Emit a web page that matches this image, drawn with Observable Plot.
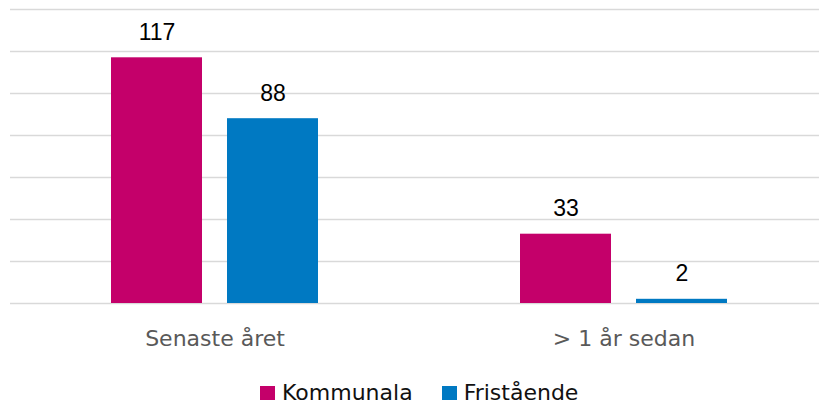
<!DOCTYPE html>
<html>
<head>
<meta charset="utf-8">
<script src="https://cdn.jsdelivr.net/npm/d3@7"></script>
<script src="https://cdn.jsdelivr.net/npm/@observablehq/plot@0.6"></script>
<style>
  html, body { margin: 0; padding: 0; background: #fff; overflow: hidden; width: 819px; height: 405px; }
  #wrap { position: relative; width: 819px; height: 405px; }
  #legend { position: absolute; left: 260px; top: 382px; display: flex; align-items: center;
            font-family: "DejaVu Sans", sans-serif; font-size: 22px; line-height: 22px; color: #111; }
  .item { display: flex; align-items: center; }
  .sw { width: 15px; height: 14px; margin-right: 7px; }
</style>
</head>
<body>
<div id="wrap"></div>
<script>
const groups = ["Senaste året", "> 1 år sedan"];
const series = ["Kommunala", "Fristående"];
const kommunala = [117, 33];
const fristaende = [88, 2];
const colors = ["#c4006a", "#0079c2"];
const yTicks = [0, 20, 40, 60, 80, 100, 120, 140];

const data = [];
groups.forEach((g, i) => {
  data.push({group: g, series: series[0], value: kommunala[i]});
  data.push({group: g, series: series[1], value: fristaende[i]});
});

const chart = Plot.plot({
  width: 819,
  height: 365,
  marginTop: 9,
  marginBottom: 62,
  marginLeft: 10,
  marginRight: 0,
  style: {fontFamily: "DejaVu Sans, sans-serif", background: "#fff", overflow: "visible"},
  fx: {domain: groups, range: [10, 828], padding: 0, axis: null},
  x: {domain: series, paddingInner: 0.214, paddingOuter: 0.855, axis: null},
  y: {domain: [0, 140], axis: null},
  color: {domain: series, range: colors},
  marks: [
    Plot.ruleY(yTicks, {stroke: "#d9d9d9", strokeWidth: 1.5}),
    Plot.barY(data, {fx: "group", x: "series", y: "value", fill: "series"}),
    Plot.text(data, {fx: "group", x: "series", y: "value", text: d => String(d.value),
      lineAnchor: "bottom", dy: -18, fontSize: 23, fill: "#000",
      fontFamily: "Liberation Sans, Arial, sans-serif"}),
    Plot.axisFx({anchor: "bottom", tickSize: 0, tickPadding: 27, fontSize: 22, color: "#595959", label: null})
  ]
});
document.getElementById("wrap").appendChild(chart);

const legend = document.createElement("div");
legend.id = "legend";
series.forEach((s, i) => {
  const item = document.createElement("div");
  item.className = "item";
  if (i > 0) item.style.marginLeft = "29px";
  const sw = document.createElement("span");
  sw.className = "sw";
  sw.style.background = colors[i];
  const t = document.createElement("span");
  t.textContent = s;
  item.appendChild(sw);
  item.appendChild(t);
  legend.appendChild(item);
});
document.getElementById("wrap").appendChild(legend);
</script>
</body>
</html>
